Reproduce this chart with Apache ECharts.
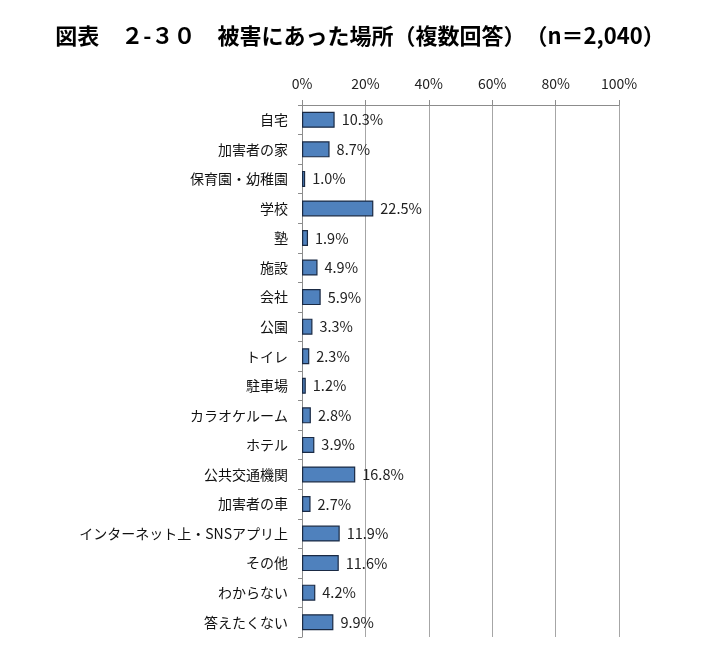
<!DOCTYPE html>
<html>
<head>
<meta charset="utf-8">
<script src="https://cdn.jsdelivr.net/npm/echarts@6/dist/echarts.min.js"></script>
<style>
  html, body { margin: 0; padding: 0; background: #fff; }
  #chart { width: 720px; height: 666px; }
</style>
</head>
<body>
<div id="chart"></div>
<script>
// 被害にあった場所（複数回答）
const places = ['自宅', '加害者の家', '保育園・幼稚園', '学校', '塾', '施設', '会社', '公園', 'トイレ', '駐車場',
  'カラオケルーム', 'ホテル', '公共交通機関', '加害者の車', 'インターネット上・SNSアプリ上', 'その他', 'わからない', '答えたくない'];
const rates = [10.3, 8.7, 1.0, 22.5, 1.9, 4.9, 5.9, 3.3, 2.3, 1.2, 2.8, 3.9, 16.8, 2.7, 11.9, 11.6, 4.2, 9.9];

const font = "'Noto Sans CJK JP', 'Noto Sans', sans-serif";

const chart = echarts.init(document.getElementById('chart'));
chart.setOption({
  animation: false,
  backgroundColor: '#fff',
  title: {
    text: '図表　２-３０　被害にあった場所（複数回答）　（n＝2,040）',
    left: 'center',
    top: 20,
    textStyle: { fontFamily: font, fontSize: 22, fontWeight: 'bold', color: '#000' }
  },
  grid: { left: 302, right: 101, top: 105, bottom: 29 },
  xAxis: {
    type: 'value',
    position: 'top',
    min: 0,
    max: 100,
    interval: 20,
    axisLine: { show: true, lineStyle: { color: '#8c8c8c', width: 1 } },
    axisTick: { show: true, length: 5, lineStyle: { color: '#8c8c8c' } },
    axisLabel: { formatter: '{value}%', margin: 14, fontFamily: font, fontSize: 14, color: '#222' },
    splitLine: { show: true, lineStyle: { color: '#a6a6a6', width: 1 } }
  },
  yAxis: {
    type: 'category',
    inverse: true,
    data: places,
    axisLine: { show: true, lineStyle: { color: '#8c8c8c', width: 1 } },
    axisTick: { show: true, length: 4, lineStyle: { color: '#8c8c8c' } },
    axisLabel: { margin: 14, fontFamily: font, fontSize: 14, color: '#111' }
  },
  series: [{
    type: 'bar',
    data: rates,
    barWidth: 16,
    itemStyle: { color: '#4f81bd', borderColor: '#1a2a44', borderWidth: 1.2 },
    label: {
      show: true,
      position: 'right',
      distance: 7,
      formatter: p => p.value.toFixed(1) + '%',
      fontFamily: font,
      fontSize: 14.5,
      color: '#222'
    }
  }]
});
</script>
</body>
</html>
